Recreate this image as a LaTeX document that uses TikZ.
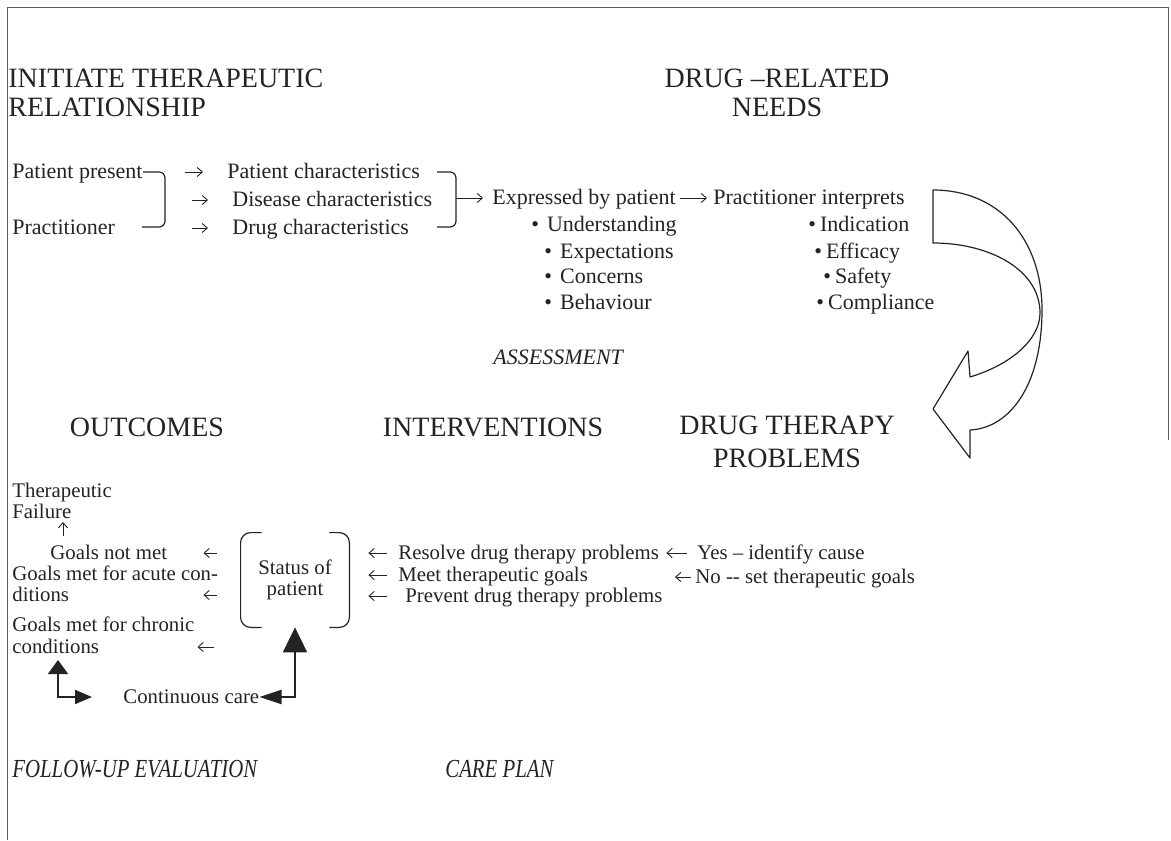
\documentclass[tikz,border=0pt]{standalone}
\usepackage{fontspec}
\setmainfont{Liberation Serif}
\newfontfamily\condit{Liberation Serif}[FakeStretch=0.8]
\usetikzlibrary{arrows.meta}
\definecolor{ink}{RGB}{35,35,35}
\definecolor{rule}{RGB}{95,95,95}
\newcommand{\lbul}{\textbullet\hspace{4pt}}
\newcommand{\rbul}{\textbullet\hspace{2pt}}

\begin{document}
\begin{tikzpicture}[x=0.5pt,y=-0.5pt,
    lbl/.style={anchor=west,inner sep=0pt,text=ink,font=\fontsize{11}{13}\selectfont,text height=0.66em,text depth=0pt},
    sml/.style={lbl,font=\fontsize{10.4}{10.5}\selectfont},
    head/.style={anchor=north,inner sep=0pt,text=ink,align=center,font=\fontsize{14}{14.5}\selectfont},
    tag/.style={anchor=west,inner sep=0pt,text=ink,text height=0.66em,text depth=0pt},
    tarr/.style={draw=ink,line width=0.45pt,-{Straight Barb[length=2.6pt,width=4.6pt]}},
    brk/.style={draw=ink,line width=0.6pt,rounded corners=3pt},
    thick arr/.style={draw=ink,line width=1pt}]
\useasboundingbox (0,0) rectangle (1171,840);
\draw[rule,line width=0.5pt] (7,840) -- (7,8) -- (1168,8) -- (1168,440);

% headings
\node[head,anchor=north west,align=left] (itr) at (8,69) {INITIATE THERAPEUTIC\\RELATIONSHIP};
\node[head] (drn) at (777,69) {DRUG –RELATED\\NEEDS};
\node[head] (out) at (147,418) {OUTCOMES};
\node[head] (int) at (493,418) {INTERVENTIONS};
\node[head] (dtp) at (787,416) {DRUG THERAPY\\[1.8pt]PROBLEMS};

% assessment
\node[lbl] (pp) at (12,172) {Patient present};
\node[lbl] (pr) at (12,228) {Practitioner};
\node[lbl] (pc) at (227,172) {Patient characteristics};
\node[lbl] (dc) at (232,200) {Disease characteristics};
\node[lbl] (dgc) at (232,228) {Drug characteristics};
\node[lbl] (ep) at (492,198) {Expressed by patient};
\node[lbl] (pi) at (713,198) {Practitioner interprets};
\node[lbl] (u1) at (531,225) {\lbul Understanding};
\node[lbl] (u2) at (544,252) {\lbul Expectations};
\node[lbl] (u3) at (544,277) {\lbul Concerns};
\node[lbl] (u4) at (544,303) {\lbul Behaviour};
\node[lbl] (v1) at (808,225) {\rbul Indication};
\node[lbl] (v2) at (814,252) {\rbul Efficacy};
\node[lbl] (v3) at (823,277) {\rbul Safety};
\node[lbl] (v4) at (816,303) {\rbul Compliance};
\node[tag,font=\fontsize{11}{13}\itshape] (asm) at (493,358) {ASSESSMENT};

\draw[brk] (143,172) -| (165,227) -- (142,227);
\draw[brk] (437,172) -| (456,227) -- (437,227);
\coordinate (b2) at (456,198);
\draw[tarr] ([xshift=-21pt]pc.west) -- ([xshift=-12pt]pc.west);
\draw[tarr] ([xshift=-20pt]dc.west) -- ([xshift=-12pt]dc.west);
\draw[tarr] ([xshift=-20pt]dgc.west) -- ([xshift=-12pt]dgc.west);
\draw[tarr,shorten >=4.5pt] (b2) -- (ep.west);
\draw[tarr,shorten <=2pt,shorten >=3pt] (ep.east) -- (pi.west);

% turning arrow
\draw[ink,line width=0.6pt,line join=round]
  (933,190) .. controls (1000,190) and (1042,240) .. (1042,310)
  .. controls (1042,385) and (1010,428) .. (970,430)
  -- (970,458) -- (933,409) -- (968,351) -- (970,377)
  .. controls (1010,365) and (1040,340) .. (1040,313)
  .. controls (1040,270) and (990,243) .. (933,243) -- cycle;

% care plan
\node[sml,align=center,anchor=center,minimum width=54pt,minimum height=47pt,text height=,text depth=] (st) at (295,580) {Status of\\patient};
\draw[brk,rounded corners=5pt] ([xshift=10.5pt]st.north west) -| (st.west) |- ([xshift=10.5pt]st.south west);
\draw[brk,rounded corners=5pt] ([xshift=-10pt]st.north east) -| (st.east) |- ([xshift=-10pt]st.south east);
\node[sml] (rs) at (398,553) {Resolve drug therapy problems};
\node[sml] (mt) at (398,575) {Meet therapeutic goals};
\node[sml] (pv) at (405,596) {Prevent drug therapy problems};
\node[sml] (ys) at (697,553) {Yes – identify cause};
\node[sml] (no) at (695,577) {No -{}- set therapeutic goals};
\draw[tarr,shorten <=5.5pt,shorten >=9.5pt] (rs.west) -- (st.east |- rs);
\draw[tarr,shorten <=5.5pt,shorten >=9.5pt] (mt.west) -- (st.east |- mt);
\draw[tarr,shorten <=9pt,shorten >=9.5pt] (pv.west) -- (st.east |- pv);
\draw[tarr,shorten <=5pt,shorten >=3.5pt] (ys.west) -- (rs.east);
\draw[tarr] ([xshift=-2pt]no.west) -- ++(-16,0);

% follow-up
\node[sml,anchor=north west,align=left,text height=,text depth=] (thf) at (12,483) {Therapeutic\\Failure};
\node[sml] (gnm) at (50,553) {Goals not met};
\node[sml] (ga1) at (12,574) {Goals met for acute con-};
\node[sml] (ga2) at (12,595) {ditions};
\node[sml] (gc1) at (12,625) {Goals met for chronic};
\node[sml] (gc2) at (12,647) {conditions};
\node[sml] (cc) at (123,697) {Continuous care};
\coordinate (fa) at (63,536);
\draw[tarr] (fa) -- ++(0,-14);
\draw[tarr,shorten <=12pt,shorten >=18pt] (st.west |- gnm) -- (gnm.east);
\draw[tarr,shorten <=12pt] (st.west |- ga2) -- ([xshift=67pt]ga2.east);
\draw[tarr,shorten <=13.5pt] (st.west |- gc2) -- ([xshift=49pt]gc2.east);
\draw[thick arr,{Triangle[length=11pt,width=7pt]}-{Triangle[length=12.5pt,width=12pt]}] (cc.east) -| (st.south);
\coordinate (lu) at (58,660);
\coordinate (lr) at (92,697);
\draw[thick arr,{Triangle[length=7pt,width=10pt]}-{Triangle[length=8.5pt,width=7pt]}] (lu) |- (lr);

\node[tag,font=\fontsize{13}{15}\condit\itshape] (fue) at (12,771) {FOLLOW-UP EVALUATION};
\node[tag,font=\fontsize{13}{15}\condit\itshape] (cpl) at (445,771) {CARE PLAN};
\end{tikzpicture}
\end{document}
